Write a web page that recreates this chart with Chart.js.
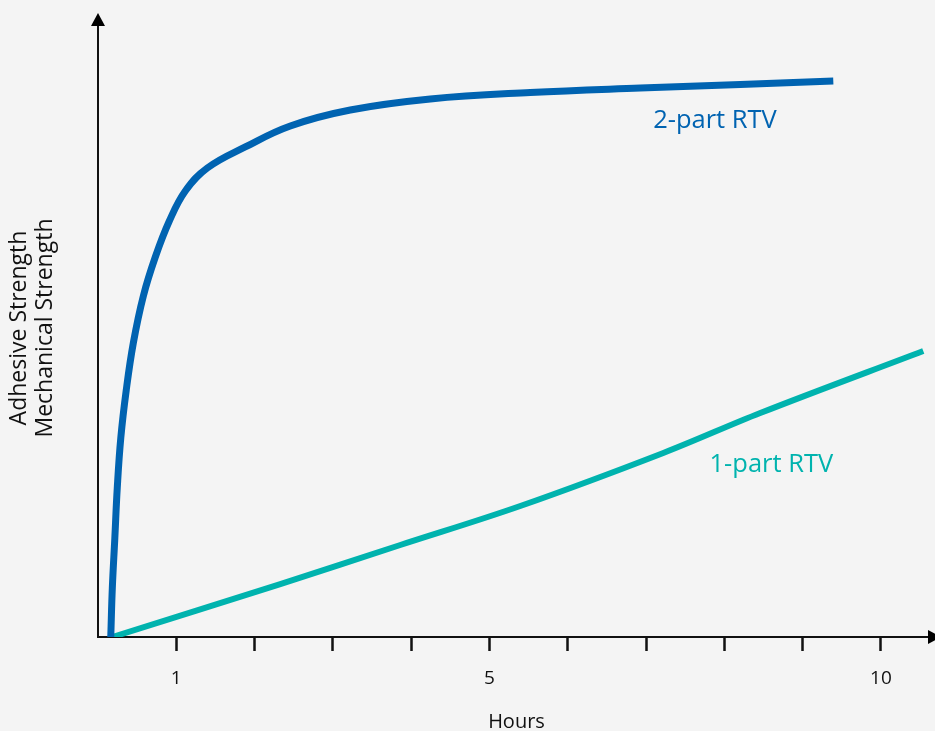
<!DOCTYPE html>
<html>
<head>
<meta charset="utf-8">
<script src="https://cdn.jsdelivr.net/npm/chart.js@4"></script>
<style>
  html, body { margin: 0; padding: 0; background: #f4f4f4; }
  #wrap { width: 935px; height: 731px; }
</style>
</head>
<body>
<div id="wrap"><canvas id="cureChart"></canvas></div>
<script>
// curve data (hours vs relative strength)
const hours2Part = [0.163, 0.183, 0.215, 0.246, 0.291, 0.361, 0.451, 0.579, 0.732, 0.911, 1.115, 1.396, 1.881, 2.456, 3.222, 4.244, 5.521, 6.926, 8.203, 9.391];
const strength2Part = [0, 8.17, 16.5, 24.83, 33.17, 41.17, 49.0, 56.83, 63.33, 69.33, 74.33, 78.17, 81.67, 85.17, 87.83, 89.67, 90.75, 91.5, 92.08, 92.67];

const hours1Part = [0.183, 2.328, 3.861, 5.393, 7.22, 8.458, 10.54];
const strength1Part = [0, 8.83, 15.33, 21.83, 30.67, 37.33, 47.67];

const xTickValues = [1, 2, 3, 4, 5, 6, 7, 8, 9, 10];
const xTickLabels = ['1', '', '', '', '5', '', '', '', '', '10'];

const seriesNames = ['2-part RTV', '1-part RTV'];
const BLUE = '#0063b1';
const TEAL = '#00b3ae';

function toPoints(xs, ys) {
    return xs.map((x, i) => ({ x: x, y: ys[i] }));
}

// text labels next to the curves, in data units (x = hours, y = baseline)
const labelSpots = [
    { text: seriesNames[0], x: 7.09, y: 84.8, color: BLUE },
    { text: seriesNames[1], x: 7.81, y: 27.5, color: TEAL }
];

// arrows at the end of both axes + curve labels
const axisArrows = {
    id: 'axisArrows',
    afterDatasetsDraw(chart) {
        const ctx = chart.ctx;
        const { left, bottom } = chart.chartArea;
        const xs = chart.scales.x, ys = chart.scales.y;

        ctx.save();
        ctx.fillStyle = '#000';
        ctx.beginPath();
        ctx.moveTo(left, 13);
        ctx.lineTo(left - 7, 26);
        ctx.lineTo(left + 7, 26);
        ctx.closePath();
        ctx.fill();

        ctx.beginPath();
        ctx.moveTo(941, bottom);
        ctx.lineTo(928, bottom - 7);
        ctx.lineTo(928, bottom + 7);
        ctx.closePath();
        ctx.fill();

        ctx.font = '25.5px "Open Sans"';
        ctx.textBaseline = 'alphabetic';
        ctx.textAlign = 'left';
        labelSpots.forEach(l => {
            ctx.fillStyle = l.color;
            ctx.fillText(l.text, xs.getPixelForValue(l.x), ys.getPixelForValue(l.y));
        });
        ctx.restore();
    }
};

const ctx = document.getElementById('cureChart').getContext('2d');
new Chart(ctx, {
    type: 'scatter',
    data: {
        datasets: [
            {
                label: seriesNames[0],
                data: toPoints(hours2Part, strength2Part),
                showLine: true,
                borderColor: BLUE,
                borderWidth: 7,
                pointRadius: 0,
                tension: 0.4
            },
            {
                label: seriesNames[1],
                data: toPoints(hours1Part, strength1Part),
                showLine: true,
                borderColor: TEAL,
                borderWidth: 6,
                pointRadius: 0,
                tension: 0.35
            }
        ]
    },
    options: {
        responsive: true,
        maintainAspectRatio: false,
        animation: false,
        layout: { padding: { top: 19, right: 0, left: 0, bottom: 0 } },
        plugins: {
            legend: { display: false },
            tooltip: { enabled: false }
        },
        scales: {
            x: {
                type: 'linear',
                min: 0,
                max: 10.69,
                afterBuildTicks: s => { s.ticks = xTickValues.map(v => ({ value: v })); },
                afterFit: s => { s.height = 94; },
                ticks: {
                    autoSkip: false,
                    maxRotation: 0,
                    padding: 16,
                    color: '#111',
                    font: { family: 'Open Sans', size: 19 },
                    callback: (v) => xTickLabels[xTickValues.indexOf(v)]
                },
                grid: {
                    display: true,
                    drawOnChartArea: false,
                    drawTicks: true,
                    tickLength: 14,
                    tickWidth: 2.5,
                    tickColor: '#111'
                },
                border: { display: true, color: '#111', width: 2 },
                title: {
                    display: true,
                    text: 'Hours',
                    color: '#111',
                    font: { family: 'Open Sans', size: 20, lineHeight: 0.9 },
                    padding: { top: 0, bottom: 0 }
                }
            },
            y: {
                min: 0,
                max: 103,
                afterFit: s => { s.width = 98; },
                ticks: { display: false },
                grid: { display: false },
                border: { display: true, color: '#111', width: 2 },
                title: {
                    display: true,
                    text: ['Adhesive Strength', 'Mechanical Strength'],
                    color: '#111',
                    font: { family: 'Open Sans', size: 23, lineHeight: 1.15 },
                    padding: { top: 6, bottom: 0 }
                }
            }
        }
    },
    plugins: [axisArrows]
});
</script>
</body>
</html>
